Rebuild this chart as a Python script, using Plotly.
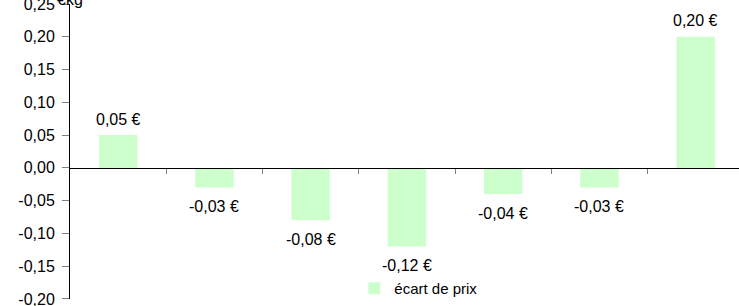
import plotly.graph_objects as go

categories = ["c1", "c2", "c3", "c4", "c5", "c6", "c7"]
ecart_values = [0.05, -0.03, -0.08, -0.12, -0.04, -0.03, 0.20]
bar_labels = ["0,05 €", "-0,03 €", "-0,08 €", "-0,12 €", "-0,04 €", "-0,03 €", "0,20 €"]
y_tick_vals = [-0.20, -0.15, -0.10, -0.05, 0.0, 0.05, 0.10, 0.15, 0.20, 0.25]
y_tick_text = ["-0,20", "-0,15", "-0,10", "-0,05", "0,00", "0,05", "0,10", "0,15", "0,20", "0,25"]
unit_label = "€kg"

FONT = "Liberation Sans, Arial, sans-serif"
W, H = 739, 306
ml, mr, mt, mb = 70, 0, 4, 7

xs = list(range(len(categories)))

fig = go.Figure()
fig.add_trace(go.Bar(
    x=xs,
    y=ecart_values,
    name="écart de prix",
    marker=dict(color="#ccffcc", line=dict(width=0)),
    width=0.4,
    cliponaxis=False,
))

for xi, v, lab in zip(xs, ecart_values, bar_labels):
    fig.add_annotation(
        x=xi, y=v, text=lab, showarrow=False,
        xanchor="center", yanchor="middle",
        yshift=16 if v >= 0 else -19,
        font=dict(family=FONT, size=16, color="black"),
    )

ymin, ymax = -0.2001, 0.2501
zero_frac = (0 - ymin) / (ymax - ymin)

fig.update_layout(
    width=W, height=H,
    margin=dict(l=ml, r=mr, t=mt, b=mb, pad=0, autoexpand=False),
    paper_bgcolor="white", plot_bgcolor="white",
    font=dict(family=FONT, size=16, color="black"),
    showlegend=True,
    legend=dict(
        x=0.425, y=-0.02, xanchor="left", yanchor="bottom",
        bgcolor="white", borderwidth=0,
        font=dict(family=FONT, size=15, color="black"),
        itemwidth=30, tracegroupgap=0,
        orientation="h",
    ),
    xaxis=dict(
        range=[-0.5, 6.45],
        anchor="free", position=zero_frac,
        automargin=False,
        showline=True, linecolor="black", linewidth=1,
        tickmode="array", tickvals=[0.5, 1.5, 2.5, 3.5, 4.5, 5.5, 6.5],
        ticktext=[""] * 7,
        ticks="outside", ticklen=5, tickcolor="#808080", tickwidth=1,
        showgrid=False, zeroline=False,
    ),
    yaxis=dict(
        range=[ymin, ymax],
        automargin=False,
        tickmode="array", tickvals=y_tick_vals, ticktext=y_tick_text,
        ticks="outside", ticklen=7, tickcolor="#808080", tickwidth=1,
        showline=True, linecolor="black", linewidth=1,
        showgrid=False, zeroline=False,
        tickfont=dict(family=FONT, size=16, color="black"),
        ticklabelstandoff=4,
        ticklabeloverflow="allow",
    ),
)

fig.add_annotation(
    text=unit_label, xref="paper", yref="paper", x=0, y=1.0,
    xanchor="center", yanchor="middle", showarrow=False,
    xshift=0, yshift=5,
    font=dict(family=FONT, size=16, color="black"),
)

fig.write_html(
    "out.html",
    config={"displayModeBar": False},
    post_script="document.body.style.margin='0';document.body.style.overflow='hidden';",
)
